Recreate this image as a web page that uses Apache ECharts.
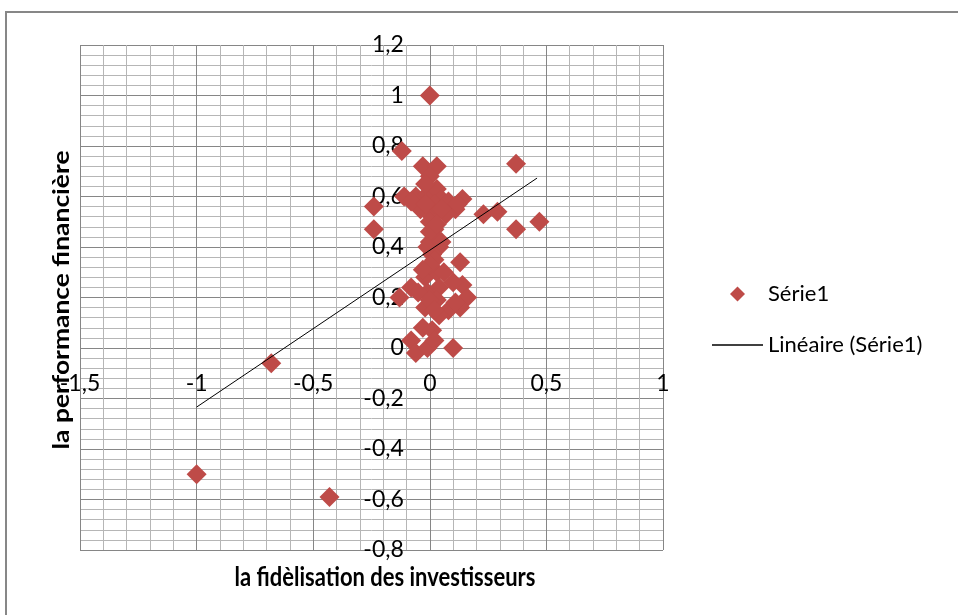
<!DOCTYPE html>
<html>
<head>
<meta charset="utf-8">
<title>Performance financière et fidélisation</title>
<script src="https://cdn.jsdelivr.net/npm/echarts@6/dist/echarts.min.js"></script>
<style>
  html, body { margin: 0; padding: 0; background: #ffffff; }
  #chart { width: 958px; height: 615px; }
</style>
</head>
<body>
<div id="chart"></div>
<script>
// Observations: investor loyalty (x) vs financial performance (y)
const fidelisation = [
  0.00, -0.12, 0.37, -0.03, 0.03, 0.00, -0.24, -0.24, -0.11, -0.06,
  -0.01, 0.03, 0.05, 0.14, 0.11, 0.07, -0.04, 0.01, 0.02, 0.00,
  0.04, 0.23, 0.29, 0.37, 0.47, 0.02, -0.02, 0.01, 0.13, 0.02,
  -0.02, 0.03, -0.08, -0.13, 0.14, 0.16, 0.13, 0.08, 0.04, -0.02,
  -0.01, 0.04, 0.10, 0.11, 0.03, -0.03, 0.01, -0.08, -0.06, -0.01,
  0.02, 0.10, -0.68, -1.00, -0.43, 0.00, 0.02, -0.08, 0.08, 0.12,
  -0.02, 0.05, 0.00, 0.03, -0.01, 0.05, 0.00, -0.03, -0.05, 0.00,
  0.02, 0.06
];
const performance = [
  1.00, 0.78, 0.73, 0.72, 0.72, 0.68, 0.56, 0.47, 0.60, 0.60,
  0.61, 0.63, 0.59, 0.59, 0.55, 0.53, 0.55, 0.52, 0.47, 0.42,
  0.40, 0.53, 0.54, 0.47, 0.50, 0.57, 0.65, 0.37, 0.34, 0.35,
  0.28, 0.30, 0.24, 0.20, 0.25, 0.20, 0.16, 0.15, 0.13, 0.16,
  0.22, 0.24, 0.26, 0.18, 0.19, 0.08, 0.07, 0.03, -0.02, 0.00,
  0.03, 0.00, -0.06, -0.50, -0.59, 0.50, 0.44, 0.58, 0.58, 0.57,
  0.57, 0.55, 0.46, 0.49, 0.40, 0.42, 0.33, 0.31, 0.22, 0.19,
  0.15, 0.30
];

// Linear trend line end points (from the smallest to the largest x)
const trendX = [-1.00, 0.46];
const trendY = [-0.234, 0.673];

// Axis settings
const xMin = -1.5, xMax = 1, xStep = 0.5;
const yMin = -0.8, yMax = 1.2, yStep = 0.2;

const seriesName = 'Série1';
const trendName = 'Linéaire (Série1)';
const xTitle = 'la fidèlisation des investisseurs';
const yTitle = 'la performance financière';

const points = fidelisation.map((x, i) => [x, performance[i]]);
const trendPoints = trendX.map((x, i) => [x, trendY[i]]);

const fmt = v => String(Math.round(v * 10) / 10).replace('.', ',');

// Plot area in pixels
const plot = { left: 80, top: 45, right: 663, bottom: 550 };
const W = 958, H = 615;
// Pixel position of the value 0 on each axis (where the axes cross)
const zeroX = plot.left + (0 - xMin) / (xMax - xMin) * (plot.right - plot.left);
const zeroY = plot.bottom - (0 - yMin) / (yMax - yMin) * (plot.bottom - plot.top);

const labelFont = { fontFamily: 'Lato, "Liberation Sans", sans-serif', fontSize: 23, color: '#000' };
const majorLine = { show: true, lineStyle: { color: '#868686', width: 1 } };
const minorLine = { show: true, lineStyle: { color: '#b6b6b6', width: 1 } };

const chart = echarts.init(document.getElementById('chart'), null, { renderer: 'canvas' });

chart.setOption({
  backgroundColor: '#ffffff',
  animation: false,
  grid: {
    left: plot.left, right: W - plot.right, top: plot.top, bottom: H - plot.bottom,
    containLabel: false
  },
  xAxis: {
    type: 'value',
    position: 'bottom',
    offset: -(plot.bottom - zeroY),
    min: xMin, max: xMax, interval: xStep,
    axisLine: { show: false, onZero: false },
    axisTick: { show: false },
    minorTick: { show: false, splitNumber: 5 },
    splitLine: majorLine,
    minorSplitLine: minorLine,
    axisLabel: Object.assign({ margin: 24, formatter: fmt, showMinLabel: true, showMaxLabel: true }, labelFont)
  },
  yAxis: {
    type: 'value',
    position: 'left',
    offset: -(zeroX - plot.left),
    min: yMin, max: yMax, interval: yStep,
    axisLine: { show: false, onZero: false },
    axisTick: { show: false },
    minorTick: { show: false, splitNumber: 5 },
    splitLine: majorLine,
    minorSplitLine: minorLine,
    axisLabel: Object.assign({ margin: 26, formatter: fmt, showMinLabel: true, showMaxLabel: true }, labelFont)
  },
  legend: {
    orient: 'vertical',
    left: 707, top: 278,
    itemWidth: 51, itemHeight: 15, itemGap: 29,
    symbolKeepAspect: true,
    textStyle: { fontFamily: 'Lato, "Liberation Sans", sans-serif', fontSize: 22, color: '#000' },
    data: [
      { name: seriesName, icon: 'path://M7,0L14,7L7,14L0,7Z', itemStyle: { color: '#BE4B48', opacity: 1 } },
      { name: trendName, icon: 'path://M0,0H51V1.5H0Z', itemStyle: { color: '#000' } }
    ]
  },
  graphic: [
    {
      type: 'rect', silent: true, z: -1,
      shape: { x: 6, y: 12, width: 1000, height: 700 },
      style: { fill: 'none', stroke: '#878787', lineWidth: 2 }
    },
    {
      type: 'text', silent: true,
      x: 385, y: 577, scaleY: 1.2,
      style: {
        text: xTitle, fill: '#000', align: 'center', verticalAlign: 'middle',
        font: 'bold 22px Lato, "Liberation Sans", sans-serif'
      }
    },
    {
      type: 'text', silent: true,
      x: 62, y: 300, rotation: Math.PI / 2, scaleX: 1.2,
      style: {
        text: yTitle, fill: '#000', align: 'center', verticalAlign: 'middle',
        font: 'bold 22px Lato, "Liberation Sans", sans-serif'
      }
    }
  ],
  series: [
    {
      name: seriesName,
      type: 'scatter',
      symbol: 'diamond',
      symbolSize: [20, 20],
      itemStyle: { color: '#BE4B48', opacity: 1 },
      data: points,
      z: 2
    },
    {
      name: trendName,
      type: 'line',
      symbol: 'none',
      lineStyle: { color: '#000', width: 1 },
      itemStyle: { color: '#000' },
      data: trendPoints,
      z: 3
    }
  ]
});
</script>
</body>
</html>
